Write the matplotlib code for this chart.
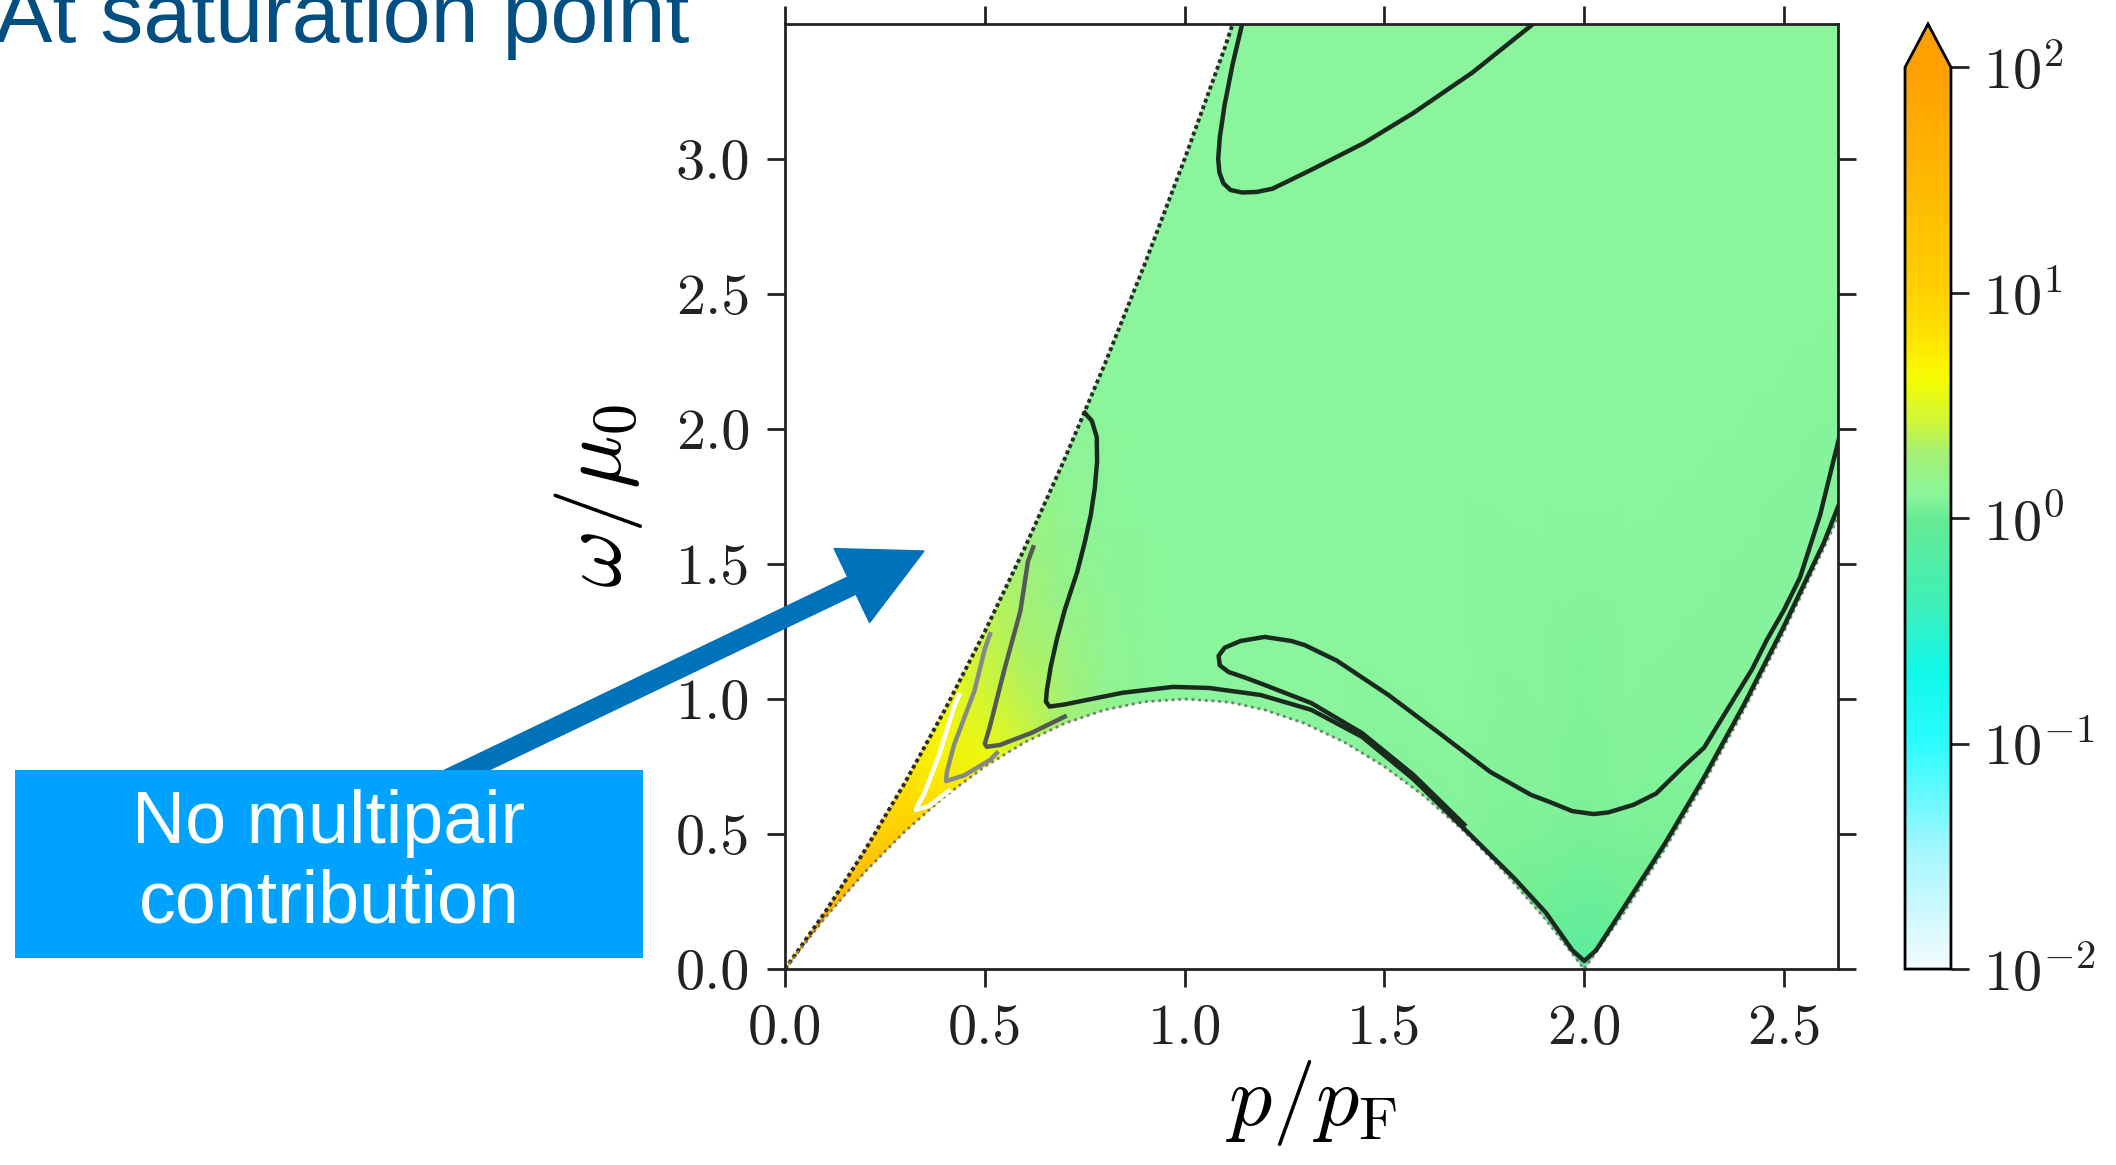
import numpy as np
import matplotlib
matplotlib.use("Agg")
import matplotlib.pyplot as plt
from matplotlib.colors import LinearSegmentedColormap, LogNorm
from matplotlib.patches import Rectangle, FancyArrow

plt.rcParams.update({
    "font.family": "serif",
    "font.serif": ["cmr10"],
    "mathtext.fontset": "cm",
    "axes.formatter.use_mathtext": True,
    "axes.unicode_minus": False,
})

# ---- data ----
# edges of the shaded region (p/pF -> omega/mu0)
p_nodes = [0.0, 0.1, 0.2, 0.3, 0.4, 0.5, 0.6, 0.7, 0.8, 0.9, 1.0, 1.1, 1.12, 1.2,
           1.3, 1.4, 1.5, 1.6, 1.7, 1.8, 1.9, 2.0, 2.1, 2.2, 2.3, 2.4, 2.5, 2.6, 2.64]
w_upper = [0.0, 0.21, 0.44, 0.69, 0.96, 1.25, 1.56, 1.89, 2.24, 2.61, 3.0, 3.41, 3.5, 3.5,
           3.5, 3.5, 3.5, 3.5, 3.5, 3.5, 3.5, 3.5, 3.5, 3.5, 3.5, 3.5, 3.5, 3.5, 3.5]
w_lower = [0.0, 0.19, 0.36, 0.51, 0.64, 0.75, 0.84, 0.91, 0.96, 0.99, 1.0, 0.99, 0.986, 0.96,
           0.91, 0.84, 0.75, 0.64, 0.51, 0.36, 0.19, 0.0, 0.21, 0.44, 0.69, 0.96, 1.25, 1.56, 1.69]

# log10 of the response across the band (rows: lower edge -> upper edge)
band_frac = [0.0, 0.15, 0.5, 1.0]
log_resp = [
    [1.7, 1.55, 1.3, 1.05, 0.8, 0.6, 0.42, 0.28, 0.17, 0.12, 0.1, 0.1, 0.1, 0.1,
     0.1, 0.1, 0.09, 0.09, 0.08, 0.06, 0.02, -0.12, 0.02, 0.06, 0.08, 0.08, 0.08, 0.08, 0.08],
    [1.7, 1.5, 1.25, 1.0, 0.75, 0.55, 0.38, 0.25, 0.15, 0.11, 0.1, 0.1, 0.1, 0.1,
     0.1, 0.1, 0.1, 0.1, 0.1, 0.09, 0.08, 0.06, 0.08, 0.09, 0.09, 0.09, 0.09, 0.09, 0.09],
    [1.7, 1.45, 1.15, 0.9, 0.65, 0.45, 0.3, 0.18, 0.12, 0.1, 0.1, 0.1, 0.1, 0.1,
     0.1, 0.1, 0.1, 0.1, 0.1, 0.1, 0.1, 0.1, 0.1, 0.1, 0.1, 0.1, 0.1, 0.1, 0.1],
    [1.7, 1.4, 1.1, 0.82, 0.58, 0.38, 0.24, 0.14, 0.1, 0.1, 0.1, 0.1, 0.1, 0.1,
     0.1, 0.1, 0.1, 0.1, 0.1, 0.1, 0.1, 0.1, 0.1, 0.1, 0.1, 0.1, 0.1, 0.1, 0.1],
]

# contour lines
top_p = [1.144, 1.12, 1.10, 1.088, 1.084, 1.087, 1.097, 1.115, 1.144, 1.18, 1.22, 1.317,
         1.45, 1.572, 1.72, 1.872]
top_w = [3.5, 3.35, 3.2, 3.08, 3.0, 2.95, 2.91, 2.885, 2.876, 2.878, 2.89, 2.96,
         3.06, 3.17, 3.32, 3.5]

l_p = [0.75, 0.768, 0.78, 0.781, 0.775, 0.765, 0.75, 0.731, 0.70, 0.68, 0.665, 0.655,
       0.653, 0.662, 0.70, 0.743, 0.844, 0.971, 1.061, 1.19, 1.317, 1.444, 1.572, 1.70,
       1.827, 1.905, 1.97, 2.0, 2.03, 2.1, 2.2, 2.3, 2.4, 2.5, 2.6, 2.64]
l_w = [2.06, 2.03, 1.97, 1.88, 1.78, 1.68, 1.58, 1.47, 1.33, 1.22, 1.12, 1.03,
       0.99, 0.972, 0.98, 0.993, 1.023, 1.045, 1.041, 1.015, 0.96, 0.86, 0.704, 0.519,
       0.333, 0.207, 0.07, 0.03, 0.07, 0.23, 0.46, 0.71, 0.98, 1.27, 1.58, 1.73]

loop_p = [2.64, 2.59, 2.54, 2.50, 2.457, 2.42, 2.373, 2.30, 2.248, 2.18, 2.123, 2.06,
          2.023, 1.97, 1.915, 1.867, 1.765, 1.637, 1.51, 1.38, 1.30, 1.267, 1.20, 1.14,
          1.10, 1.085, 1.088, 1.11, 1.15, 1.19, 1.317, 1.444, 1.572, 1.70]
loop_w = [1.98, 1.68, 1.45, 1.33, 1.219, 1.11, 0.997, 0.82, 0.749, 0.65, 0.608, 0.58,
          0.574, 0.585, 0.618, 0.645, 0.73, 0.874, 1.015, 1.143, 1.20, 1.215, 1.23, 1.215,
          1.19, 1.16, 1.125, 1.10, 1.08, 1.058, 0.985, 0.874, 0.72, 0.535]

gray1_p = [0.621, 0.608, 0.589, 0.55, 0.513, 0.50, 0.505, 0.538, 0.616, 0.70]
gray1_w = [1.562, 1.51, 1.326, 1.115, 0.90, 0.835, 0.823, 0.83, 0.874, 0.935]
gray2_p = [0.513, 0.50, 0.474, 0.423, 0.405, 0.403, 0.448, 0.513, 0.53]
gray2_w = [1.24, 1.185, 1.03, 0.83, 0.73, 0.696, 0.717, 0.774, 0.80]
white_p = [0.436, 0.423, 0.385, 0.347, 0.33, 0.328, 0.36, 0.41]
white_w = [1.015, 0.972, 0.79, 0.645, 0.60, 0.589, 0.604, 0.66]

cbar_ticks = [1e-2, 1e-1, 1e0, 1e1, 1e2]
cbar_labels = [r"$10^{-2}$", r"$10^{-1}$", r"$10^{0}$", r"$10^{1}$", r"$10^{2}$"]

# ---- colour map (white -> cyan -> green -> yellow -> orange) ----
cmap = LinearSegmentedColormap.from_list("resp", [
    (0.0, "#f2fbff"), (0.125, "#a8f6ff"), (0.25, "#2afcff"), (0.33, "#10f8e8"),
    (0.40, "#3cf0bc"), (0.5, "#66ea92"), (0.525, "#8af59c"), (0.575, "#a6f070"),
    (0.61, "#d2f634"), (0.655, "#f6fc00"), (0.70, "#ffe400"), (0.75, "#ffd000"),
    (0.875, "#ffb800"), (1.0, "#ffa000")])
cmap.set_over("#ffa000")
norm = LogNorm(vmin=1e-2, vmax=1e2)

fig = plt.figure(figsize=(21.16, 11.65), dpi=100)
ax = fig.add_axes([0.371, 0.1682, 0.4976, 0.8112])
cax = fig.add_axes([0.9003, 0.1682, 0.0217, 0.8112])

pn = np.array(p_nodes)
wl = np.array(w_lower)
wu = np.array(w_upper)
s = np.array(band_frac)[:, None]
P = np.tile(pn, (len(band_frac), 1))
W = wl[None, :] + s * (wu - wl)[None, :]
Z = 10 ** np.array(log_resp)
mesh = ax.pcolormesh(P, W, Z, shading="gouraud", cmap=cmap, norm=norm, rasterized=True)

# ragged edges of the region
ax.plot(p_nodes[:13], w_upper[:13], color="#2a2a2a", lw=2.8, ls=(0, (1.0, 0.8)))
ax.plot(p_nodes, w_lower, color="#7a7a7a", lw=2.0, ls=(0, (1.0, 1.4)))

lw = 3.2
ax.plot(top_p, top_w, color="#1b2a1e", lw=lw)
ax.plot(l_p, l_w, color="#1b2a1e", lw=lw)
ax.plot(loop_p, loop_w, color="#1b2a1e", lw=lw)
ax.plot(gray1_p, gray1_w, color="#555955", lw=lw)
ax.plot(gray2_p, gray2_w, color="#868a86", lw=lw)
ax.plot(white_p, white_w, color="white", lw=lw)

ax.set_xlim(0, 2.635)
ax.set_ylim(0, 3.5)
ax.set_xticks([0.0, 0.5, 1.0, 1.5, 2.0, 2.5])
ax.set_yticks([0.0, 0.5, 1.0, 1.5, 2.0, 2.5, 3.0])
ax.set_xticklabels(["0.0", "0.5", "1.0", "1.5", "2.0", "2.5"])
ax.set_yticklabels(["0.0", "0.5", "1.0", "1.5", "2.0", "2.5", "3.0"])
ax.tick_params(direction="out", length=13, width=2, labelsize=42, pad=12,
               top=True, right=True, colors="#222222")
for sp in ax.spines.values():
    sp.set_linewidth(2)
    sp.set_color("#222222")
ax.set_xlabel(r"$p/p_{\mathrm{F}}$", fontsize=62, labelpad=2)
ax.set_ylabel(r"$\omega/\mu_0$", fontsize=64, labelpad=22)

cb = fig.colorbar(mesh, cax=cax, extend="max", extendfrac=0.048)
cb.set_ticks(cbar_ticks)
cb.set_ticklabels(cbar_labels)
cb.minorticks_off()
cb.outline.set_linewidth(2)
cax.tick_params(direction="out", length=13, width=2, labelsize=42, pad=10, colors="#222222")

# annotation
fig.text(-0.05, 11.23, "At saturation point", transform=fig.dpi_scale_trans,
         fontsize=62, color="#004f80", family="Liberation Sans", va="baseline", ha="left")

arrow = FancyArrow(3.0, 3.15, 9.24 - 3.0, 6.14 - 3.15, width=0.19, head_width=0.82,
                   head_length=0.80, length_includes_head=True, color="#0072b9",
                   transform=fig.dpi_scale_trans, zorder=5)
fig.add_artist(arrow)
box = Rectangle((0.15, 2.07), 6.28, 1.88, facecolor="#00a2ff", edgecolor="none",
                transform=fig.dpi_scale_trans, zorder=6)
fig.add_artist(box)
fig.text(3.29, 3.02, "No multipair\ncontribution", transform=fig.dpi_scale_trans,
         fontsize=53, color="white", family="Liberation Sans", ha="center", va="center",
         linespacing=1.2, zorder=7)

plt.savefig("out.png", dpi=100)
